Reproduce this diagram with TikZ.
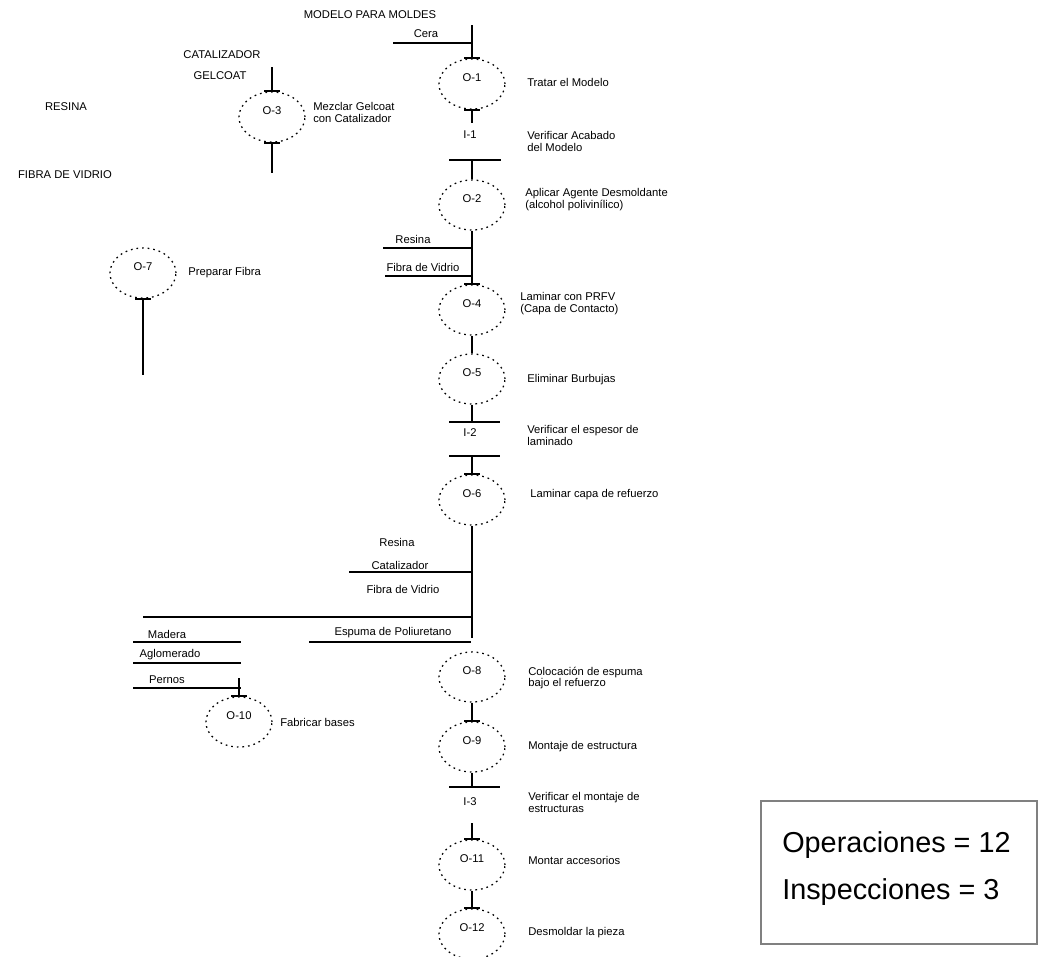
\documentclass[tikz,border=0pt]{standalone}
\usepackage{fontspec}
\setmainfont{Liberation Sans}
\usetikzlibrary{shapes.geometric}

\def\capHalf{0.2cm}
%% remate en T sobre un punto de union
\newcommand{\capAt}[1]{\draw [flow, line width=1.5pt] ([xshift=-\capHalf]#1) -- ([xshift=\capHalf]#1);}

\tikzset{
  opstep/.style={ellipse, draw, dash pattern=on 1.2pt off 2.8pt, line width=0.9pt,
    minimum width=1.65cm, minimum height=1.25cm, inner sep=0pt},
  oplabel/.style={label={[txt, yshift=0.15cm]center:#1}},
  flow/.style={line width=1.2pt},
  txt/.style={font=\fontsize{8}{8.5}\selectfont, inner sep=0pt, align=left},
  sumtxt/.style={font=\fontsize{20.5}{24}\selectfont, inner sep=0pt, anchor=base west}
}

\begin{document}
\begin{tikzpicture}[x=0.025cm, y=-0.025cm]
            \useasboundingbox (0,0) rectangle (1038,956);
            %% operaciones (linea principal)
            \node [opstep, oplabel=O-1] (o1) at (472,84) {};
            \node [opstep, oplabel=O-2] (o2) at (472,205) {};
            \node [opstep, oplabel=O-4] (o4) at (472,310) {};
            \node [opstep, oplabel=O-5] (o5) at (472,379) {};
            \node [opstep, oplabel=O-6] (o6) at (472,500) {};
            \node [opstep, oplabel=O-8] (o8) at (472,677) {};
            \node [opstep, oplabel=O-9] (o9) at (472,747) {};
            \node [opstep, oplabel=O-11] (o11) at (472,865) {};
            \node [opstep, oplabel=O-12] (o12) at (472,934) {};
            %% operaciones laterales
            \node [opstep, oplabel=O-3] (o3) at (272,117) {};
            \node [opstep, oplabel=O-7] (o7) at (143,273) {};
            \node [opstep, oplabel=O-10] (o10) at (239,722) {};
            %% inspecciones
            \node [txt] (i1) at (470,135) {I-1};
            \node [txt] (i2) at (470,433) {I-2};
            \node [txt] (i3) at (470,802) {I-3};

            %% descripciones
            \node [txt, anchor=west] (o1txt) at (527,82) {Tratar el Modelo};
            \node [txt, anchor=west] (i1txt) at (527,141) {Verificar Acabado\\del Modelo};
            \node [txt, anchor=west] (o2txt) at (525,200) {Aplicar Agente Desmoldante\\(alcohol polivin\'ilico)};
            \node [txt, anchor=west] (o4txt) at (520,304) {Laminar con PRFV\\(Capa de Contacto)};
            \node [txt, anchor=west] (o5txt) at (527,380) {Eliminar Burbujas};
            \node [txt, anchor=west] (i2txt) at (527,435) {Verificar el espesor de\\laminado};
            \node [txt, anchor=west] (o6txt) at (530,495) {Laminar capa de refuerzo};
            \node [txt, anchor=west] (o8txt) at (528,678) {Colocaci\'on de espuma\\bajo el refuerzo};
            \node [txt, anchor=west] (o9txt) at (528,747) {Montaje de estructura};
            \node [txt, anchor=west] (i3txt) at (528,802) {Verificar el montaje de\\estructuras};
            \node [txt, anchor=west] (o11txt) at (528,860) {Montar accesorios};
            \node [txt, anchor=west] (o12txt) at (528,933) {Desmoldar la pieza};
            \node [txt, anchor=west] (o3txt) at (313,112) {Mezclar Gelcoat\\con Catalizador};
            \node [txt, anchor=west] (o7txt) at (188,273) {Preparar Fibra};
            \node [txt, anchor=west] (o10txt) at (280,722) {Fabricar bases};

            %% materiales
            \node [txt] (modelo) at (370,15) {MODELO PARA MOLDES};
            \node [txt] (cataliz) at (222,55) {CATALIZADOR};
            \node [txt] (gelcoat) at (220,76) {GELCOAT};
            \node [txt] (resinaTop) at (66,107) {RESINA};
            \node [txt] (fibraTop) at (65,175) {FIBRA DE VIDRIO};
            \node [txt] (cera) at (426,34) {Cera};
            \node [txt] (resinaA) at (413,239) {Resina};
            \node [txt] (fibraA) at (423,267) {Fibra de Vidrio};
            \node [txt] (resinaB) at (397,542) {Resina};
            \node [txt] (catalB) at (400,565) {Catalizador};
            \node [txt] (fibraB) at (403,589) {Fibra de Vidrio};
            \node [txt] (espuma) at (393,633) {Espuma de Poliuretano};
            \node [txt] (madera) at (167,634) {Madera};
            \node [txt] (aglom) at (170,655) {Aglomerado};
            \node [txt] (pernos) at (167,680) {Pernos};

            %% puntos de entrada
            \coordinate (flowtop) at (472,25);
            \coordinate (ceraIn) at (393,43);
            \coordinate (i1top) at (472,123);
            \coordinate (i1bar) at (472,160);
            \coordinate (resinaAIn) at (383,248);
            \coordinate (fibraAIn) at (385,276);
            \coordinate (i2bar) at (472,422);
            \coordinate (i2low) at (472,456);
            \coordinate (o6end) at (472,638);
            \coordinate (catalBIn) at (349,572);
            \coordinate (baseIn) at (143,617);
            \coordinate (espumaIn) at (309,642);
            \coordinate (i3bar) at (472,787);
            \coordinate (i3low) at (472,823);
            \coordinate (gelIn) at (272,67);
            \coordinate (gelOut) at (272,173);
            \coordinate (o7out) at (143,375);
            \coordinate (pernosIn) at (239,678);

            %% linea principal
            \draw [flow] (flowtop) -- (o1.north);
            \draw [flow] (ceraIn) -- (ceraIn -| flowtop);
            \draw [flow] (o1.south) -- (i1top);
            \draw [flow] (449,160) -- (501,160);
            \draw [flow] (i1bar) -- (o2.north);
            \draw [flow] (o2.south) -- (o4.north);
            \draw [flow] (resinaAIn) -- (resinaAIn -| flowtop);
            \draw [flow] (fibraAIn) -- (fibraAIn -| flowtop);
            \draw [flow] (o4.south) -- (o5.north);
            \draw [flow] (o5.south) -- (i2bar);
            \draw [flow] (449,422) -- (500,422)
            (449,456) -- (500,456);
            \draw [flow] (i2low) -- (o6.north);
            \draw [flow] (o6.south) -- (o6end);
            \draw [flow] (catalBIn) -- (catalBIn -| flowtop);
            \draw [flow] (baseIn) -- (baseIn -| flowtop);
            \draw [flow] (espumaIn) -- (471,642);
            \draw [flow] (o8.south) -- (o9.north);
            \draw [flow] (o9.south) -- (i3bar);
            \draw [flow] (449,787) -- (500,787);
            \draw [flow] (i3low) -- (o11.north);
            \draw [flow] (o11.south) -- (o12.north);

            %% ramas laterales
            \draw [flow] (gelIn) -- (o3.north);
            \draw [flow] (o3.south) -- (gelOut);
            \draw [flow] (o7.south) -- (o7out);
            \draw [flow] (133,642) -- (241,642)
            (133,663) -- (241,663)
            (133,688) -- (241,688);
            \draw [flow] (pernosIn) -- (o10.north);

            %% remates en T
            \capAt{o1.north} \capAt{o1.south} \capAt{o4.north}
            \capAt{o6.north} \capAt{o9.north} \capAt{o11.north}
            \capAt{o12.north} \capAt{o3.north} \capAt{o3.south}
            \capAt{o7.south} \capAt{o10.north}

            %% resumen
            \draw [gray, line width=0.8pt] (761,801) rectangle (1037,944);
            \node [sumtxt] (opsum) at (782,852) {Operaciones = 12};
            \node [sumtxt] (insum) at (782,899) {Inspecciones = 3};
        \end{tikzpicture}
\end{document}
